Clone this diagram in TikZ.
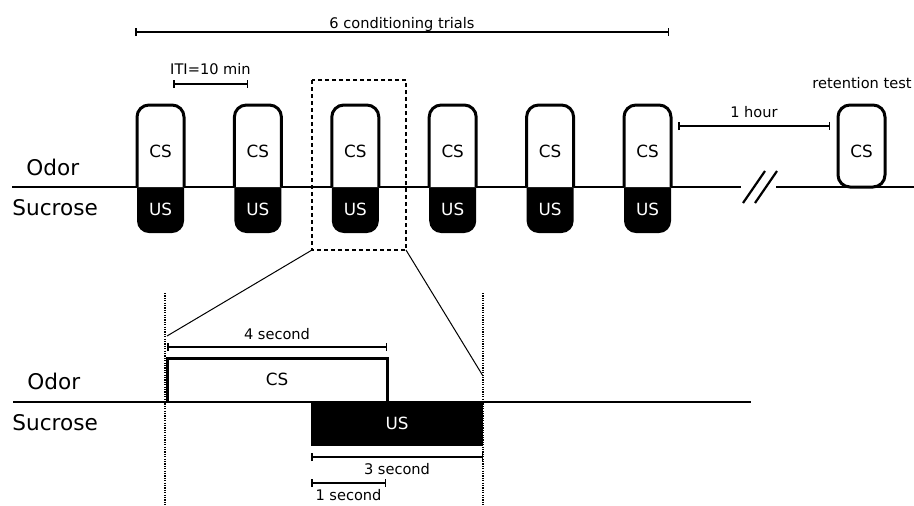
\documentclass[tikz,border=0pt]{standalone}
\usepackage{fontspec}
\setmainfont{DejaVu Sans}
\usetikzlibrary{arrows.meta}
\tikzset{
  axis/.style={line width=1.25pt},
  trialbox/.style={line width=1.5pt,rounded corners=6},
  pulse/.style={line width=1.5pt},
  span/.style={{Bar[width=4pt]}-{Bar[width=4pt]},line width=0.75pt},
  zoombox/.style={line width=0.75pt,dash pattern=on 2pt off 1.5pt},
  guide/.style={line width=0.6pt,dash pattern=on 0.6pt off 0.6pt},
  lbl/.style={font=\fontsize{10.8}{12}\selectfont,inner sep=0pt,anchor=base west},
  stim/.style={font=\fontsize{8.4}{10}\selectfont,inner sep=0pt,anchor=base},
  lab/.style={font=\fontsize{7.3}{9}\selectfont,inner sep=0pt,anchor=base},
}
\begin{document}
\begin{tikzpicture}[x=0.5pt,y=-0.5pt]
  \useasboundingbox (0,0) rectangle (914,505);
  % training phase
  \node[lbl] (odor) at (26,175) {Odor};
  \node[lbl] (sucrose) at (12,215) {Sucrose};
  \coordinate (a0) at (12,187);
  \coordinate (a1) at (741,187);
  \coordinate (a2) at (776,187);
  \coordinate (a3) at (914,187);
  \draw[axis] (a0) -- (a1) (a2) -- (a3);
  \draw[line width=1.1pt] (743,203) -- (765,171) (755,203) -- (777,171);
  \foreach \i in {1,...,6} {
    \pgfmathsetmacro\x{160.5+97.4*(\i-1)}
    \fill[rounded corners=6] (\x-23.5,187) -- (\x-23.5,233) -- (\x+23.5,233) -- (\x+23.5,187);
    \draw[trialbox,fill=white] (\x-23.5,187) -- (\x-23.5,105) -- (\x+23.5,105) -- (\x+23.5,187);
    \node[stim] (cs\i) at (\x,157) {CS};
    \node[stim,text=white] (us\i) at (\x,215) {US};
  }
  \draw[trialbox,fill=white] (838,105) rectangle (885,187);
  \node[stim] (cs7) at (861.5,157) {CS};
  \node[lab] (retention) at (862,88) {retention test};
  % time spans
  \coordinate (t0) at (135,32);
  \coordinate (t1) at (669,32);
  \draw[span] (t0) -- node[lab,yshift=2pt] (trials) {6 conditioning trials} (t1);
  \coordinate (i0) at (173,84);
  \coordinate (i1) at (248,84);
  \draw[span] (i0) -- node[lab,yshift=5pt] (iti) {ITI=10 min} (i1);
  \coordinate (h0) at (678,126);
  \coordinate (h1) at (830,126);
  \draw[span] (h0) -- node[lab,yshift=4.5pt] (hour) {1 hour} (h1);
  % zoom of one trial
  \draw[zoombox] (312,80) rectangle (406,250);
  \coordinate (zl) at (312,250);
  \coordinate (zr) at (406,250);
  \coordinate (gl) at (167,336);
  \coordinate (gr) at (483,376);
  \draw[line width=0.5pt] (zl) -- (gl) (zr) -- (gr);
  % single trial
  \node[lbl] (odor2) at (27,389) {Odor};
  \node[lbl] (sucrose2) at (12,430) {Sucrose};
  \coordinate (b0) at (13,402);
  \coordinate (b1) at (751,402);
  \draw[axis] (b0) -- (b1);
  \draw[guide] (165,293) -- (165,505) (483,293) -- (483,505);
  \draw[pulse] (167,402) -- (167,358) -- (387,358) -- (387,402);
  \node[stim] (csb) at (277,385) {CS};
  \fill (311,402) rectangle (483,446);
  \node[stim,text=white] (usb) at (397,429) {US};
  \coordinate (s0) at (167,347);
  \coordinate (s1) at (387,347);
  \draw[span] (s0) -- node[lab,yshift=4pt] (four) {4 second} (s1);
  \coordinate (u0) at (311,457);
  \coordinate (u1) at (483,457);
  \draw[span] (u0) -- node[lab,yshift=-8.5pt] (three) {3 second} (u1);
  \coordinate (v0) at (311,483);
  \coordinate (v1) at (386,483);
  \draw[span] (v0) -- node[lab,yshift=-8.5pt] (one) {1 second} (v1);
\end{tikzpicture}
\end{document}
